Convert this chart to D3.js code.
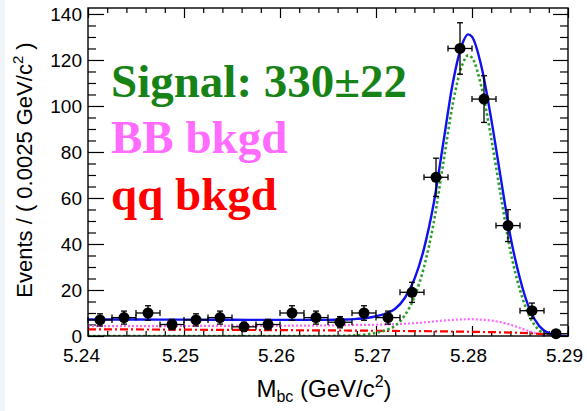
<!DOCTYPE html>
<html>
<head>
<meta charset="utf-8">
<script src="https://cdn.jsdelivr.net/npm/d3@7"></script>
<style>
  html, body { margin: 0; padding: 0; background: #ffffff; }
  svg { display: block; }
</style>
</head>
<body>
<svg id="chart" width="587" height="411"></svg>
<script>
// Binned M_bc data (bin width 0.0025 GeV/c^2)
const binCenters = [5.24125, 5.24375, 5.24625, 5.24875, 5.25125, 5.25375, 5.25625, 5.25875,
                    5.26125, 5.26375, 5.26625, 5.26875, 5.27125, 5.27375, 5.27625, 5.27875,
                    5.28125, 5.28375, 5.28625, 5.28875];
const binCounts  = [7, 8, 10, 5, 7, 8, 4, 5, 10, 8, 6, 10, 8, 19, 69, 125, 103, 48, 11, 1];
const binHalfWidth = 0.00125;

// Fit components sampled along M_bc
const fitMass = [5.240, 5.245, 5.250, 5.255, 5.260, 5.262, 5.264, 5.266, 5.267, 5.268, 5.269,
                 5.270, 5.271, 5.272, 5.273, 5.274, 5.275, 5.276, 5.277, 5.278, 5.279, 5.2796,
                 5.280, 5.281, 5.282, 5.283, 5.284, 5.285, 5.286, 5.287, 5.288, 5.289, 5.290];
const signalFit = [0, 0, 0, 0, 0, 0, 0, 0.05, 0.1, 0.3, 0.7,
                   1.4, 2.5, 4.5, 9, 17, 30, 49, 75, 101, 118, 122,
                   121, 108, 86, 61, 37, 20, 8.5, 2.5, 0.3, 0, 0];
const bbBkgFit = [4.3, 4.3, 4.35, 4.4, 4.45, 4.5, 4.55, 4.65, 4.7, 4.8, 4.85,
                  4.9, 5.0, 5.15, 5.35, 5.6, 5.9, 6.3, 6.7, 7.0, 7.25, 7.3,
                  7.3, 7.1, 6.7, 6.0, 4.9, 3.5, 2.0, 0.9, 0.3, 0.05, 0];
const qqBkgFit = [2.9, 2.85, 2.75, 2.65, 2.55, 2.5, 2.45, 2.4, 2.38, 2.35, 2.3,
                  2.28, 2.25, 2.2, 2.17, 2.14, 2.1, 2.05, 2.0, 1.95, 1.9, 1.85,
                  1.82, 1.75, 1.68, 1.6, 1.5, 1.38, 1.2, 0.95, 0.6, 0, 0];

// Axis ticks
const xMajorTicks = [5.24, 5.25, 5.26, 5.27, 5.28, 5.29];
const yMajorTicks = [0, 20, 40, 60, 80, 100, 120, 140];

// Legend
const legendLabels = ["Signal: 330\u00b122", "BB bkgd", "qq bkgd"];
const legendColors = ["#178317", "#ff6cff", "#ff0000"];

const svg = d3.select("#chart");
const W = 587, H = 411;
const plot = { left: 88, right: 568, top: 8, bottom: 336 };

svg.append("rect").attr("width", W).attr("height", H).attr("fill", "#ffffff");
svg.append("rect").attr("x", 0).attr("y", 0).attr("width", 5).attr("height", H).attr("fill", "#f2f5f8");

const x = d3.scaleLinear().domain([5.24, 5.29]).range([plot.left, plot.right]);
const y = d3.scaleLinear().domain([0, 142.6]).range([plot.bottom, plot.top]);

const xMinor = d3.range(0, 26).map(i => 5.24 + i * 0.002).filter(v => !xMajorTicks.some(t => Math.abs(t - v) < 1e-9));
const yMinor = d3.range(0, 29).map(i => i * 5).filter(v => v % 20 !== 0);

const tickFont = "'Liberation Sans', Arial, Helvetica, sans-serif";

function styleAxis(g) {
  g.select(".domain").remove();
  g.selectAll("line").attr("stroke", "#000").attr("stroke-width", 1.2);
  g.selectAll("text").attr("font-family", tickFont).attr("font-size", 19).attr("fill", "#000");
}

// bottom axis with labels
svg.append("g").attr("class", "x-labels").attr("transform", `translate(0,${plot.bottom})`)
  .call(d3.axisBottom(x).tickValues(xMajorTicks).tickSize(-10).tickPadding(13).tickFormat(d3.format(".2f")))
  .call(styleAxis)
  .selectAll("text").attr("dx", (d, i) => (i === 0 ? -7 : -4));
svg.append("g").attr("transform", `translate(0,${plot.bottom})`)
  .call(d3.axisBottom(x).tickValues(xMinor).tickSize(-5).tickFormat(""))
  .call(styleAxis);
// top axis
svg.append("g").attr("transform", `translate(0,${plot.top})`)
  .call(d3.axisTop(x).tickValues(xMajorTicks).tickSize(-10).tickFormat(""))
  .call(styleAxis);
svg.append("g").attr("transform", `translate(0,${plot.top})`)
  .call(d3.axisTop(x).tickValues(xMinor).tickSize(-5).tickFormat(""))
  .call(styleAxis);
// left axis with labels
svg.append("g").attr("transform", `translate(${plot.left},0)`)
  .call(d3.axisLeft(y).tickValues(yMajorTicks).tickSize(-16).tickPadding(6))
  .call(styleAxis);
svg.append("g").attr("transform", `translate(${plot.left},0)`)
  .call(d3.axisLeft(y).tickValues(yMinor).tickSize(-8).tickFormat(""))
  .call(styleAxis);
// right axis
svg.append("g").attr("transform", `translate(${plot.right},0)`)
  .call(d3.axisRight(y).tickValues(yMajorTicks).tickSize(-15).tickFormat(""))
  .call(styleAxis);
svg.append("g").attr("transform", `translate(${plot.right},0)`)
  .call(d3.axisRight(y).tickValues(yMinor).tickSize(-8).tickFormat(""))
  .call(styleAxis);

// clip for curves
svg.append("clipPath").attr("id", "plotClip").append("rect")
  .attr("x", plot.left).attr("y", plot.top)
  .attr("width", plot.right - plot.left).attr("height", plot.bottom - plot.top);

const curveGroup = svg.append("g").attr("clip-path", "url(#plotClip)");
const line = d3.line().x(d => x(d[0])).y(d => y(d[1])).curve(d3.curveMonotoneX);

const totalFit = fitMass.map((m, i) => signalFit[i] + bbBkgFit[i] + qqBkgFit[i]);

curveGroup.append("path").datum(fitMass.map((m, i) => [m, bbBkgFit[i]]))
  .attr("d", line).attr("fill", "none").attr("stroke", "#ff66ff")
  .attr("stroke-width", 2.2).attr("stroke-dasharray", "2,2");
curveGroup.append("path").datum(fitMass.map((m, i) => [m, qqBkgFit[i]]))
  .attr("d", line).attr("fill", "none").attr("stroke", "#ff0000")
  .attr("stroke-width", 2.2).attr("stroke-dasharray", "8,3,2,3");
curveGroup.append("path").datum(fitMass.map((m, i) => [m, signalFit[i]]))
  .attr("d", line).attr("fill", "none").attr("stroke", "#2aa02a")
  .attr("stroke-width", 2.6).attr("stroke-dasharray", "2.5,2.5");
curveGroup.append("path").datum(fitMass.map((m, i) => [m, totalFit[i]]))
  .attr("d", line).attr("fill", "none").attr("stroke", "#1010f0")
  .attr("stroke-width", 2.4);

// data points with error bars
const pts = svg.append("g");
binCenters.forEach((m, i) => {
  const n = binCounts[i];
  const e = Math.sqrt(n);
  const cx = x(m), cy = y(n);
  const g = pts.append("g").attr("stroke", "#000").attr("stroke-width", 1.3);
  const xl = x(m - binHalfWidth), xr = x(m + binHalfWidth);
  const yt = y(n + e), yb = Math.min(y(Math.max(n - e, 0)), plot.bottom);
  g.append("line").attr("x1", xl).attr("x2", xr).attr("y1", cy).attr("y2", cy);
  g.append("line").attr("x1", xl).attr("x2", xl).attr("y1", cy - 3).attr("y2", cy + 3);
  g.append("line").attr("x1", xr).attr("x2", xr).attr("y1", cy - 3).attr("y2", cy + 3);
  g.append("line").attr("x1", cx).attr("x2", cx).attr("y1", yt).attr("y2", yb);
  g.append("line").attr("x1", cx - 3).attr("x2", cx + 3).attr("y1", yt).attr("y2", yt);
  g.append("line").attr("x1", cx - 3).attr("x2", cx + 3).attr("y1", yb).attr("y2", yb);
  pts.append("circle").attr("cx", cx).attr("cy", cy).attr("r", 5.5).attr("fill", "#000");
});

// frame
svg.append("rect").attr("x", plot.left).attr("y", plot.top)
  .attr("width", plot.right - plot.left).attr("height", plot.bottom - plot.top)
  .attr("fill", "none").attr("stroke", "#000").attr("stroke-width", 1.4);

// axis titles
const xt = svg.append("text").attr("x", 324).attr("y", 397).attr("text-anchor", "middle")
  .attr("font-family", tickFont).attr("font-size", 24).attr("fill", "#000");
xt.append("tspan").text("M");
xt.append("tspan").attr("font-size", 16).attr("dy", 5).text("bc");
xt.append("tspan").attr("dy", -5).text(" (GeV/c");
xt.append("tspan").attr("font-size", 16).attr("dy", -10).text("2");
xt.append("tspan").attr("dy", 10).text(")");

const yt = svg.append("text").attr("transform", "translate(32,170) rotate(-90)")
  .attr("text-anchor", "middle").attr("font-family", tickFont).attr("font-size", 22).attr("fill", "#000");
yt.append("tspan").text("Events / ( 0.0025 GeV/c");
yt.append("tspan").attr("font-size", 15).attr("dy", -9).text("2");
yt.append("tspan").attr("dy", 9).text(" )");

// legend texts
const legendY = [97, 153, 210];
legendLabels.forEach((t, i) => {
  svg.append("text").attr("x", 111).attr("y", legendY[i])
    .attr("font-family", "'Liberation Serif', 'Times New Roman', serif")
    .attr("font-weight", "bold").attr("font-size", 47)
    .attr("fill", legendColors[i]).text(t);
});
</script>
</body>
</html>
